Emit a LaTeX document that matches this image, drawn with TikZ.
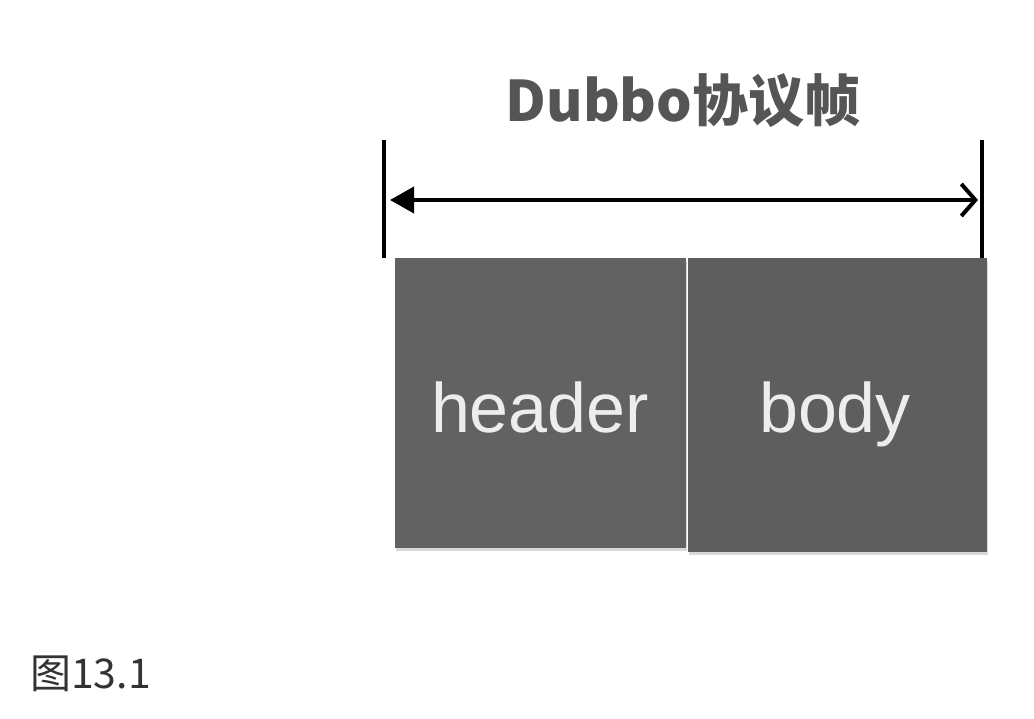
\documentclass[tikz,border=0pt]{standalone}
\usepackage{fontspec}
\setmainfont{Liberation Sans}
\newfontfamily\cjk{Noto Sans CJK SC}
\usetikzlibrary{arrows.meta, shadows}
\definecolor{framegray}{HTML}{626262}
\definecolor{bodygray}{HTML}{5E5E5E}
\definecolor{titlegray}{HTML}{555555}
\definecolor{captiongray}{HTML}{333333}

\begin{document}
\begin{tikzpicture}[x=1pt, y=-1pt,
    part/.style={fill=#1, draw=none, inner sep=0pt, minimum height=290pt,
      drop shadow={opacity=0.3, shadow xshift=1pt, shadow yshift=-3pt}},
    partlabel/.style={text=white!93!black, anchor=base, inner sep=0pt,
      font=\fontsize{70}{74}\selectfont},
    tick/.style={line width=4pt}]
  \useasboundingbox (0,0) rectangle (1034,718);
  % frame parts
  \node[part=framegray, minimum width=291pt] (header) at (540.5,403) {};
  \node[part=bodygray, minimum width=299pt, minimum height=294pt] (body) at (837.5,405) {};
  \node[partlabel] (headertext) at (540,432) {header};
  \node[partlabel] (bodytext) at (835,432) {body};
  % length marks
  \coordinate (ltop) at (384,140);
  \coordinate (lbot) at (384,258);
  \coordinate (rtop) at (982,140);
  \coordinate (rbot) at (982,258);
  \draw[tick] (ltop) -- (lbot);
  \draw[tick] (rtop) -- (rbot);
  \coordinate (la) at (390,200);
  \coordinate (ra) at (978,200);
  \draw[tick, {Triangle[length=24pt,width=26pt]}-{Straight Barb[length=14pt,width=32pt,line width=4pt]}] (la) -- (ra);
  % title and caption
  \node[anchor=base, inner sep=0pt, text=titlegray,
    font=\cjk\bfseries\fontsize{56}{60}\selectfont] (title) at (683,121) {Dubbo协议帧};
  \node[anchor=base west, inner sep=0pt, text=captiongray,
    font=\cjk\fontsize{41}{44}\selectfont] (caption) at (30,688) {图13.1};
\end{tikzpicture}
\end{document}
